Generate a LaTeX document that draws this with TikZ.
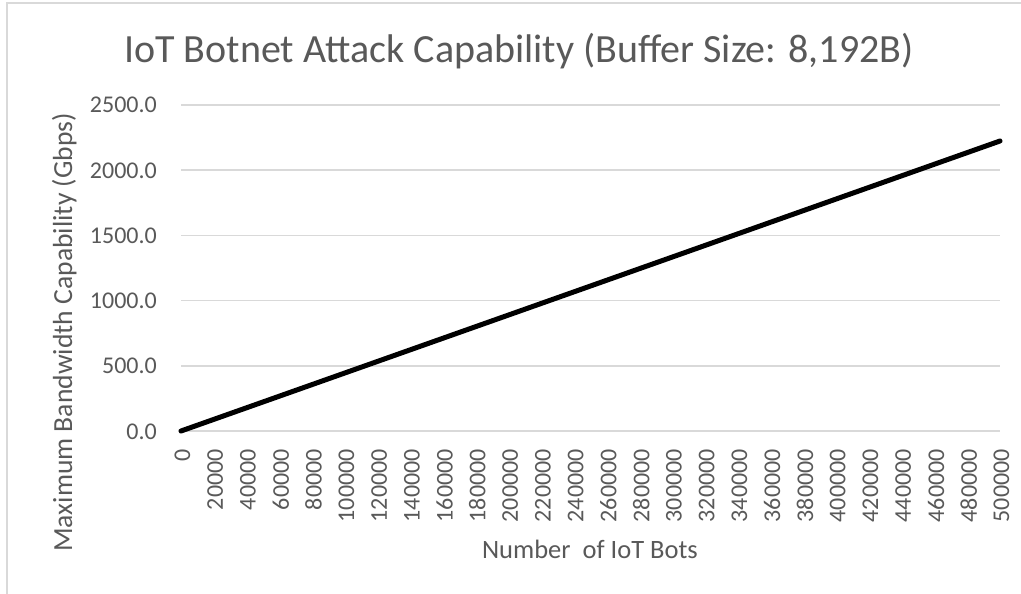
\documentclass[tikz,border=0pt]{standalone}
\usepackage{fontspec}
\setmainfont{Carlito}
\definecolor{txt}{HTML}{595959}
\definecolor{gridc}{HTML}{D9D9D9}
\definecolor{framec}{HTML}{D9D9D9}

\tikzset{
  frameline/.style={draw=framec, line width=2bp},
  gridline/.style={draw=gridc, line width=1.5bp},
  series/.style={draw=black, line width=5bp, line cap=round, line join=round},
  charttitle/.style={text=txt, inner sep=0pt, font=\fontsize{40bp}{44bp}\selectfont},
  axistitle/.style={text=txt, inner sep=0pt, font=\fontsize{26.5bp}{30bp}\selectfont},
  ticklabel/.style={text=txt, inner sep=0pt, font=\fontsize{24bp}{28bp}\selectfont},
}

\begin{document}
\begin{tikzpicture}[x=1bp, y=-1bp]
  \useasboundingbox (0,0) rectangle (1021,594);
  \fill[white] (0,0) rectangle (1021,594);

  % chart area border (left and top edges)
  \coordinate (fbl) at (7,600);
  \coordinate (ftr) at (1030,3);
  \draw[frameline] (fbl) |- (ftr);

  % title
  \node[charttitle, anchor=base] (title) at (519,63)
    {IoT Botnet Attack Capability (Buffer Size: 8,192B)};

  % horizontal gridlines and value labels
  \foreach \v [count=\i from 0] in {0.0,500.0,1000.0,1500.0,2000.0,2500.0} {
    \coordinate (gl\i) at (181, 431-\i*65.2);
    \coordinate (gr\i) at (1000, 431-\i*65.2);
    \draw[gridline] (gl\i) -- (gr\i);
    \node[ticklabel, anchor=base east] (yl\i) at (157, 439-\i*65.2) {\v};
  }

  % category labels, rotated
  \foreach \k in {0,...,25} {
    \node[ticklabel, rotate=90, anchor=east] (xl\k) at (182.5+\k*32.76, 449)
      {\ifnum\k=0 0\else\the\numexpr\k*20000\relax\fi};
  }

  % axis titles
  \node[axistitle, rotate=90, anchor=base, font=\fontsize{27.6bp}{31bp}\selectfont]
    (ytitle) at (72,332.5) {Maximum Bandwidth Capability (Gbps)};
  \node[axistitle, anchor=base] (xtitle) at (590,558) {Number\ \ of IoT Bots};

  % data series
  \coordinate (s0) at (181,431);
  \coordinate (s1) at (1000,141);
  \draw[series] (s0) -- (s1);
\end{tikzpicture}
\end{document}
